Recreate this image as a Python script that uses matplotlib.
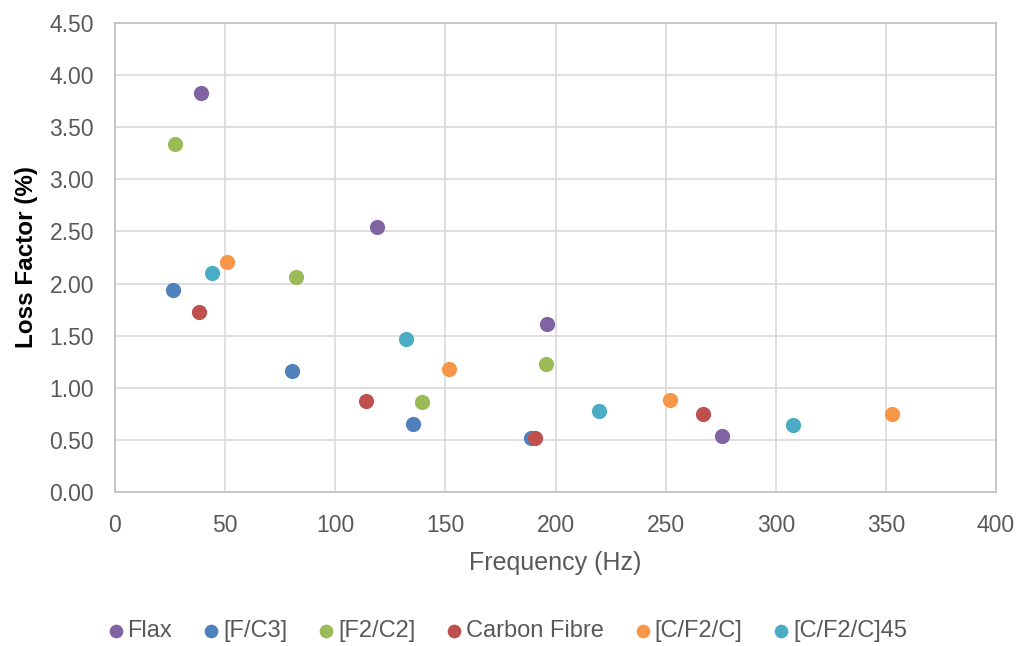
import matplotlib
matplotlib.use('Agg')
import matplotlib.pyplot as plt

plt.rcParams['font.family'] = ['Liberation Sans', 'DejaVu Sans']

series = ['Flax', '[F/C3]', '[F2/C2]', 'Carbon Fibre', '[C/F2/C]', '[C/F2/C]45']
colors = ['#8064a2', '#4f81bd', '#9bbb59', '#c0504d', '#f79646', '#4bacc6']

flax_x = [39.0, 119.0, 196.1, 275.6]
flax_y = [3.83, 2.54, 1.61, 0.54]
fc3_x = [26.3, 80.4, 135.3, 188.9]
fc3_y = [1.94, 1.16, 0.65, 0.52]
f2c2_x = [27.2, 82.2, 139.4, 195.7]
f2c2_y = [3.34, 2.06, 0.86, 1.23]
cf_x = [38.1, 114.0, 190.7, 267.0]
cf_y = [1.73, 0.87, 0.52, 0.75]
cf2c_x = [50.9, 151.6, 252.0, 352.8]
cf2c_y = [2.21, 1.18, 0.88, 0.75]
cf2c45_x = [44.0, 132.1, 219.7, 307.8]
cf2c45_y = [2.10, 1.47, 0.78, 0.64]

xs = [flax_x, fc3_x, f2c2_x, cf_x, cf2c_x, cf2c45_x]
ys = [flax_y, fc3_y, f2c2_y, cf_y, cf2c_y, cf2c45_y]

fig = plt.figure(figsize=(10.22, 6.46), dpi=100)
ax = fig.add_axes([0.1125, 0.2384, 0.8621, 0.726])

for name, c, x, y in zip(series, colors, xs, ys):
    ax.scatter(x, y, s=120, color=c, label=name, zorder=3, linewidths=0)

ax.set_xlim(0, 400)
ax.set_ylim(0, 4.5)
ax.set_xticks(range(0, 401, 50))
ax.set_yticks([i * 0.5 for i in range(10)])
ax.set_yticklabels(['%.2f' % (i * 0.5) for i in range(10)])
ax.grid(True, color='#d9d9d9', linewidth=1.2, zorder=0)
ax.set_axisbelow(True)
for sp in ax.spines.values():
    sp.set_color('#bfbfbf')
    sp.set_linewidth(1.2)
ax.tick_params(length=0, labelsize=16.5, colors='#595959')
ax.tick_params(axis='y', pad=15)
ax.tick_params(axis='x', pad=16)

ax.set_xlabel('Frequency (Hz)', fontsize=18, color='#595959', labelpad=10)
ax.set_ylabel('Loss Factor (%)', fontsize=17.5, fontweight='bold', color='black', labelpad=8)

fig.legend(loc='center', ncol=6, frameon=False, fontsize=17,
           bbox_to_anchor=(0.497, 0.023), handlelength=0.6, handletextpad=0.2,
           columnspacing=1.35, markerscale=0.9, labelcolor='#595959')

fig.savefig('out.png', dpi=100)
